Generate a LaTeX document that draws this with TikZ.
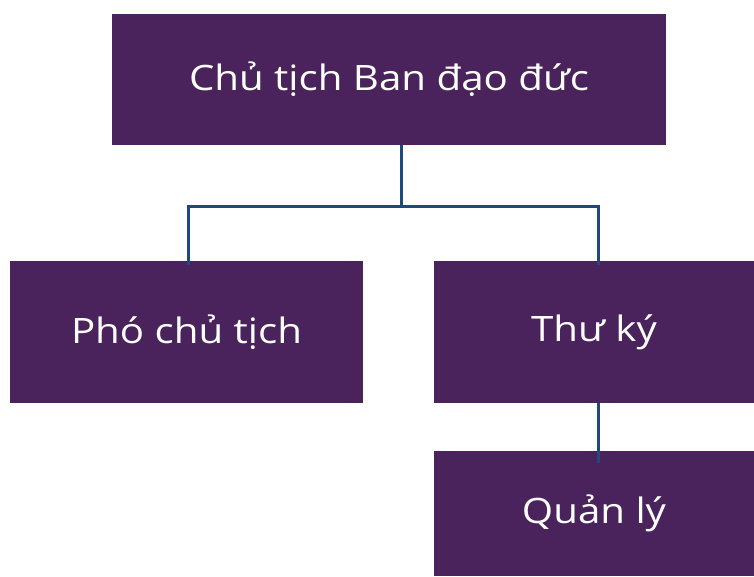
\documentclass[tikz,border=0pt]{standalone}
\usepackage{fontspec}
\setmainfont{Open Sans}[FakeStretch=1.15]
\definecolor{boxpurple}{RGB}{74,35,92}
\definecolor{linkblue}{RGB}{31,73,125}
\tikzset{
    rolebox/.style={fill=boxpurple, text=white, inner sep=0pt, font=\fontsize{35}{42}\selectfont},
    link/.style={draw=linkblue, line width=3pt}
}
\begin{document}
\begin{tikzpicture}[x=1pt, y=-1pt]
    \useasboundingbox (0, 0) rectangle (754, 576);

    \node[rolebox, minimum width=554pt, minimum height=131pt] (chair) at (389, 79.5) {Chủ tịch Ban đạo đức};
    \node[rolebox, minimum width=353pt, minimum height=142pt] (vice) at (186.5, 332) {Phó chủ tịch};
    \node[rolebox, minimum width=320pt, minimum height=142pt] (secretary) at (594, 332) {Thư ký};
    \node[rolebox, minimum width=320pt, minimum height=125pt] (manager) at (594, 513.5) {Quản lý};

    \coordinate (split) at (401, 206);
    \coordinate (lefttap) at (188, 265);
    \coordinate (righttap) at (598, 265);
    \coordinate (bottomtap) at (598, 463);

    \draw[link] (chair.south -| split) -- (split);
    \draw[link] (lefttap) |- (split) -| (righttap);
    \draw[link] (secretary.south -| bottomtap) -- (bottomtap);
\end{tikzpicture}
\end{document}
